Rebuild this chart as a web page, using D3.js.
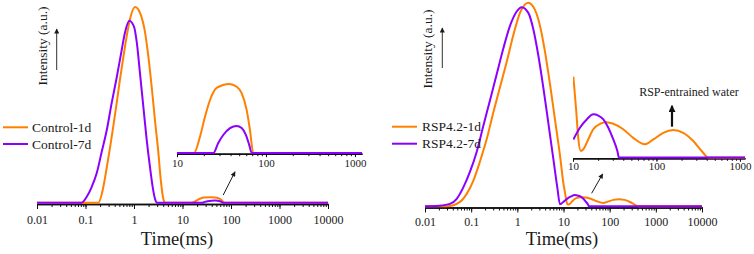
<!DOCTYPE html>
<html>
<head>
<meta charset="utf-8">
<script src="https://cdn.jsdelivr.net/npm/d3@7"></script>
<style>
  body { margin: 0; background: #fff; }
  svg { display: block; }
  svg text { font-family: "Liberation Serif", "Times New Roman", Times, serif; fill: #1a1a1a; }
</style>
</head>
<body>
<svg id="chart" width="754" height="254" font-family="Liberation Serif, Times New Roman, serif"></svg>
<script>
// ---- data (time in ms, intensity in a.u.) ----
const timeTicks = [0.01, 0.1, 1, 10, 100, 1000, 10000];
const insetTicks = [10, 100, 1000];
const legendLeft = ['Control-1d', 'Control-7d'];
const legendRight = ['RSP4.2-1d', 'RSP4.2-7d'];

const control1d = [
  [0.01, 0], [0.184, 0], [0.233, 8], [0.274, 18], [0.32, 28], [0.374, 39], [0.44, 51],
  [0.514, 63], [0.6, 74], [0.706, 85], [0.83, 94], [1.05, 100], [1.33, 97], [1.69, 87],
  [1.97, 75], [2.32, 59], [2.71, 42], [3.17, 26], [3.55, 12], [4.02, 2], [4.35, 0],
  [10, 0], [15.5, 0], [18.1, 0.65], [20.6, 1.46], [23.5, 2.15], [27.9, 2.64], [38.7, 2.8],
  [46.9, 2.69], [53.3, 2.43], [60.7, 1.74], [66.1, 0.93], [72, 0], [10000, 0]
];
const control7d = [
  [0.01, 0], [0.0836, 0], [0.106, 3], [0.134, 8], [0.17, 15], [0.216, 26], [0.274, 37],
  [0.347, 51], [0.44, 64], [0.557, 78], [0.652, 87], [0.8, 93], [1.0, 90], [1.14, 82],
  [1.33, 66], [1.56, 49], [1.83, 32], [2.14, 18], [2.43, 8], [2.71, 2], [2.94, 0],
  [10, 0], [25.6, 0], [29.1, 0.41], [33.1, 0.73], [39.4, 1.01], [46.9, 1.1], [53.3, 1.01],
  [59.6, 0.73], [64.9, 0.32], [69.1, 0], [10000, 0]
];
const rsp1d = [
  [0.01, 0], [0.0295, 0], [0.0573, 2.2], [0.08, 6.1], [0.111, 12.5], [0.155, 22], [0.217, 33],
  [0.301, 46], [0.421, 58.5], [0.589, 71], [0.817, 84], [1.14, 95], [1.73, 100], [2.41, 96.5],
  [3.1, 88.6], [3.97, 76], [5.1, 60], [6.54, 42.6], [8.39, 25],
  [10.1, 10.3], [10.9, 6.1], [11.6, 2.3], [12.4, 0.83], [13.3, 1.05], [15.2, 2.3], [17.5, 3.6],
  [21.1, 4.3], [25.3, 4.5], [30.4, 4.3], [40, 3.6], [52.7, 2.5], [72.8, 1.68], [91.6, 2.3],
  [120.6, 3.15], [159, 3.49], [209, 3.15], [276, 2.1], [348, 0.83], [417, 0], [10000, 0]
];
const rsp7d = [
  [0.01, 0], [0.02, 0.3], [0.0347, 1.2], [0.0487, 3.7], [0.0676, 9.3], [0.0944, 17], [0.132, 26.8],
  [0.183, 39.4], [0.256, 52.1], [0.357, 64.8], [0.497, 77.5], [0.693, 88.6], [0.968, 95.7],
  [1.24, 97.8], [1.73, 95], [2.22, 87], [2.84, 74.3], [3.65, 58.4], [4.69, 41], [6.01, 23.5],
  [7.34, 9.3], [8.39, 1.0],
  [10.1, 2.3], [12.1, 3.8], [14.6, 4.85], [17.5, 5.5], [20.1, 5.35], [23.1, 4.85], [26.5, 3.8],
  [30.4, 2.3], [34, 0.83], [35.5, 0], [10000, 0]
];

// annotation anchors, in data units
const leftPointer = [[69, 3.9], [121, 15.8]];
const rightPointer = [[40.7, 6.4], [70.6, 15.9]];
const waterArrow = [[153.5, 3.93], [153.5, 6.6]];
const waterLabel = [245, 7.84];

const colors = ['#ff8000', '#8c00ff'];
const serif = '"Liberation Serif", "Times New Roman", serif';

// ---- layout ----
const panels = [
  {
    series: [control1d, control7d], names: legendLeft,
    xRange: [37, 328], yRange: [202.7, 7], yMax: 100, axisY: 204, tickPad: 6,
    timeLabel: [177, 245], yLabel: [47, 46], yArrow: [56.7, 70, 29],
    legend: { x1: 3, x2: 28, y: 127.3, dy: 16.7, tx: 32 },
    inset: { xDomain: [10, 1200], xRange: [177, 362], yMax: 2.8, yRange: [153, 84], axisY: 153.7, pad: 2 },
    pointer: leftPointer
  },
  {
    series: [rsp1d, rsp7d], names: legendRight,
    xRange: [425, 702], yRange: [206.3, 2.7], yMax: 100, axisY: 207.5, tickPad: 4.5,
    timeLabel: [562, 245], yLabel: [432, 49], yArrow: [442.3, 68, 28],
    legend: { x1: 392, x2: 417, y: 126.7, dy: 17, tx: 422 },
    inset: { xDomain: [10, 1150], xRange: [573, 745], yMax: 10.3, yRange: [157.5, 76.7], axisY: 158.3, pad: 0 },
    pointer: rightPointer,
    water: true
  }
];

const $svg = d3.select('#chart');
const defs = $svg.append('defs');
defs.append('marker')
  .attr('id', 'headThin')
  .attr('viewBox', '0 0 10 10')
  .attr('refX', 9).attr('refY', 5)
  .attr('markerWidth', 7).attr('markerHeight', 5)
  .attr('markerUnits', 'userSpaceOnUse')
  .attr('orient', 'auto')
  .append('path').attr('d', 'M0,0 L10,5 L0,10 Z').attr('fill', '#1a1a1a');
defs.append('marker')
  .attr('id', 'headThick')
  .attr('viewBox', '0 0 10 10')
  .attr('refX', 9).attr('refY', 5)
  .attr('markerWidth', 8).attr('markerHeight', 7)
  .attr('markerUnits', 'userSpaceOnUse')
  .attr('orient', 'auto')
  .append('path').attr('d', 'M0,0 L10,5 L0,10 Z').attr('fill', '#111');

const styleAxis = (g, fontSize) => {
  g.attr('font-size', fontSize).attr('font-family', serif);
  g.select('.domain').attr('stroke', '#111').attr('stroke-width', 1.5);
  g.selectAll('.tick line').attr('stroke', '#111').attr('stroke-width', 1);
  g.selectAll('.tick text').attr('fill', '#1a1a1a').attr('font-family', serif);
};

panels.forEach((p, pi) => {
  const x = d3.scaleLog().domain([0.01, 10000]).range(p.xRange);
  const y = d3.scaleLinear().domain([0, p.yMax]).range(p.yRange);
  const line = d3.line().x((d) => x(d[0])).y((d) => y(d[1])).curve(d3.curveMonotoneX);

  // main x axis: minor ticks, then labelled decades
  $svg.append('g')
    .attr('transform', 'translate(0,' + p.axisY + ')')
    .call(d3.axisBottom(x).tickValues(x.ticks()).tickSize(3).tickSizeOuter(0).tickFormat(''))
    .call((g) => styleAxis(g, 12));
  $svg.append('g')
    .attr('transform', 'translate(0,' + p.axisY + ')')
    .call(d3.axisBottom(x).tickValues(timeTicks).tickSize(5).tickSizeOuter(0).tickPadding(p.tickPad).tickFormat(String))
    .call((g) => styleAxis(g, 12));

  $svg.append('text')
    .text('Time(ms)')
    .attr('text-anchor', 'middle')
    .attr('font-family', serif)
    .attr('font-size', 18.5)
    .attr('x', p.timeLabel[0])
    .attr('y', p.timeLabel[1]);

  $svg.append('text')
    .text('Intensity (a.u.)')
    .attr('text-anchor', 'middle')
    .attr('font-family', serif)
    .attr('font-size', 13.5)
    .attr('transform', 'translate(' + p.yLabel[0] + ',' + p.yLabel[1] + ') rotate(-90)');
  $svg.append('line')
    .attr('x1', p.yArrow[0]).attr('x2', p.yArrow[0])
    .attr('y1', p.yArrow[1]).attr('y2', p.yArrow[2])
    .attr('stroke', '#1a1a1a').attr('stroke-width', 0.9)
    .attr('marker-end', 'url(#headThin)');

  // curves
  p.series.forEach((s, i) => {
    $svg.append('path')
      .datum(s)
      .attr('d', line)
      .attr('fill', 'none')
      .attr('stroke', colors[i])
      .attr('stroke-width', 2);
  });

  // legend
  p.names.forEach((name, i) => {
    const ly = p.legend.y + i * p.legend.dy;
    $svg.append('line')
      .attr('x1', p.legend.x1).attr('x2', p.legend.x2)
      .attr('y1', ly).attr('y2', ly)
      .attr('stroke', colors[i]).attr('stroke-width', 2);
    $svg.append('text')
      .text(name)
      .attr('font-family', serif)
      .attr('font-size', 13.5)
      .attr('x', p.legend.tx)
      .attr('y', ly + 4.6);
  });

  // pointer towards the inset
  $svg.append('line')
    .attr('x1', x(p.pointer[0][0])).attr('y1', y(p.pointer[0][1]))
    .attr('x2', x(p.pointer[1][0])).attr('y2', y(p.pointer[1][1]))
    .attr('stroke', '#1a1a1a').attr('stroke-width', 1)
    .attr('marker-end', 'url(#headThin)');

  // inset
  const ins = p.inset;
  const xi = d3.scaleLog().domain(ins.xDomain).range(ins.xRange);
  const yi = d3.scaleLinear().domain([0, ins.yMax]).range(ins.yRange);
  const lineI = d3.line().x((d) => xi(d[0])).y((d) => yi(d[1])).curve(d3.curveMonotoneX);
  const clipId = 'insetClip' + pi;
  defs.append('clipPath').attr('id', clipId)
    .append('rect')
    .attr('x', ins.xRange[0]).attr('y', 0)
    .attr('width', ins.xRange[1] - ins.xRange[0]).attr('height', 254);

  $svg.append('g')
    .attr('transform', 'translate(0,' + ins.axisY + ')')
    .call(d3.axisBottom(xi).tickValues(xi.ticks()).tickSize(2.5).tickSizeOuter(0).tickFormat(''))
    .call((g) => styleAxis(g, 11));
  $svg.append('g')
    .attr('transform', 'translate(0,' + ins.axisY + ')')
    .call(d3.axisBottom(xi).tickValues(insetTicks).tickSize(3.5).tickSizeOuter(0).tickPadding(ins.pad).tickFormat(String))
    .call((g) => styleAxis(g, 11));

  const $inset = $svg.append('g').attr('clip-path', 'url(#' + clipId + ')');
  p.series.forEach((s, i) => {
    $inset.append('path')
      .datum(s.filter((d) => d[0] >= 10))
      .attr('d', lineI)
      .attr('fill', 'none')
      .attr('stroke', colors[i])
      .attr('stroke-width', 2);
  });

  if (p.water) {
    $svg.append('line')
      .attr('x1', xi(waterArrow[0][0])).attr('y1', yi(waterArrow[0][1]))
      .attr('x2', xi(waterArrow[1][0])).attr('y2', yi(waterArrow[1][1]))
      .attr('stroke', '#111').attr('stroke-width', 2.2)
      .attr('marker-end', 'url(#headThick)');
    $svg.append('text')
      .text('RSP-entrained water')
      .attr('text-anchor', 'middle')
      .attr('font-family', serif)
      .attr('font-size', 12)
      .attr('x', xi(waterLabel[0]))
      .attr('y', yi(waterLabel[1]));
  }
});
</script>
</body>
</html>
